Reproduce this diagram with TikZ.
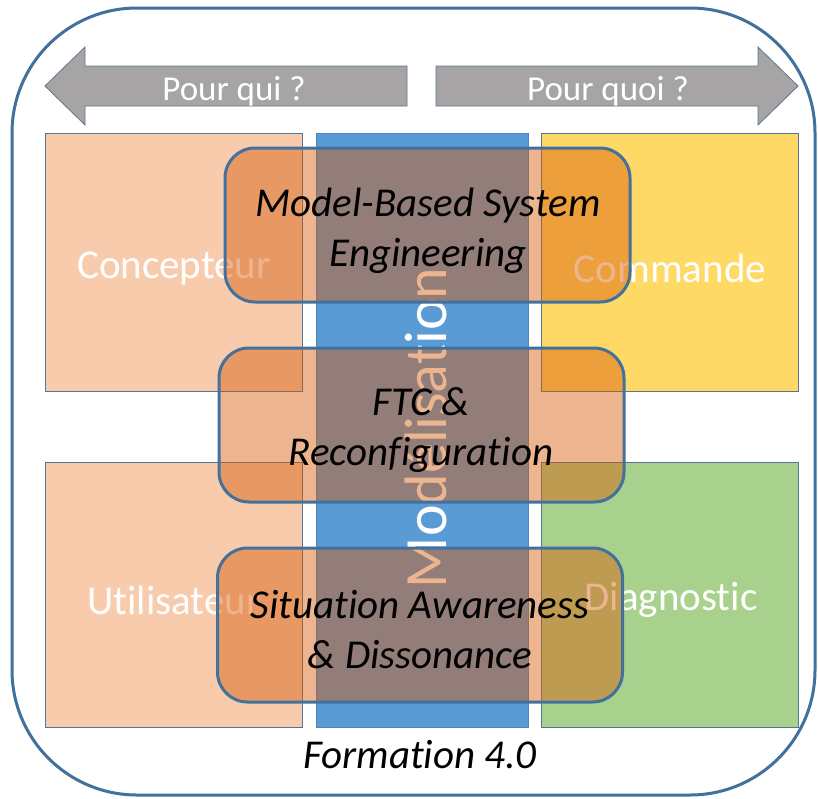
\documentclass[tikz,border=0pt]{standalone}
\usepackage{fontspec}
\setmainfont{Carlito}[Ligatures=NoCommon]
\definecolor{frameblue}{HTML}{41719C}
\definecolor{peach}{HTML}{F8CBAD}
\definecolor{gold}{HTML}{FFD966}
\definecolor{leaf}{HTML}{A9D18E}
\definecolor{barblue}{HTML}{5B9BD5}
\definecolor{arrowgray}{HTML}{A6A4A4}
\definecolor{ovl}{HTML}{D65A08}
\tikzset{
  frame/.style={draw=frameblue, line width=3pt, rounded corners=125pt},
  bigarrow/.style={fill=arrowgray, draw=frameblue!60!gray, line width=0.8pt},
  arrowtext/.style={text=white, font=\fontsize{35}{42}\selectfont},
  sq/.style={draw=frameblue!70!gray, line width=0.7pt, inner sep=0pt,
    minimum width=257pt, text=white, font=\fontsize{41}{49}\selectfont},
  ovlbox/.style={draw=frameblue, line width=3pt, rounded corners=30pt,
    fill=ovl, fill opacity=0.45, draw opacity=1, text opacity=1,
    minimum width=405pt, minimum height=154pt, inner sep=0pt},
  ovltext/.style={align=center, font=\fontsize{41}{50}\selectfont\itshape},
}
\begin{document}
\begin{tikzpicture}[x=1pt,y=-1pt]
\useasboundingbox (0,0) rectangle (818,798);
\fill[white] (0,0) rectangle (818,798);
\draw[frame] (12,8) rectangle (815,795);
% arrows
\draw[bigarrow] (45,86) -- (85,47) -- (85,66) -- (407,66) -- (407,106) -- (85,106) -- (85,125) -- cycle;
\draw[bigarrow] (798,86) -- (758,47) -- (758,66) -- (436,66) -- (436,106) -- (758,106) -- (758,125) -- cycle;
\node[arrowtext] (pourqui) at (234,91) {Pour qui ?};
\node[arrowtext] (pourquoi) at (608,91) {Pour quoi ?};
% squares
\node[sq, fill=peach, minimum height=258pt] (concepteur) at (174,262) {};
\node[sq, fill=gold, minimum height=258pt] (commande) at (669.5,262) {};
\node[sq, fill=peach, minimum height=265pt] (utilisateur) at (174,594.5) {};
\node[sq, fill=leaf, minimum height=265pt] (diagnostic) at (669.5,594.5) {};
\node[sq, draw=none, minimum width=0pt] (lconcepteur) at (174,268) {Concepteur};
\node[sq, draw=none, minimum width=0pt] (lcommande) at (670,268) {Commande};
\node[sq, draw=none, minimum width=0pt] (lutilisateur) at (174,600) {Utilisateur};
\node[sq, draw=none, minimum width=0pt] (ldiagnostic) at (671,600) {Diagnostic};
% bar
\node[fill=barblue, draw=frameblue!50!barblue, line width=0.5pt, minimum width=212pt, minimum height=594pt, inner sep=0pt] (bar) at (422,430) {};
\node[rotate=90, text=white, font=\fontsize{60}{70}\selectfont] (modelisation) at (426,428) {Modélisation};
% overlay boxes
\node[ovlbox] (mbse) at (427.5,225) {};
\node[ovlbox] (ftc) at (421.5,425) {};
\node[ovlbox] (sa) at (420,625) {};
\node[ovltext] (tmbse) at (428,231) {Model-Based System\\Engineering};
\node[ovltext] (tftc) at (421,430) {FTC \&\\Reconfiguration};
\node[ovltext] (tsa) at (420,630) {Situation Awareness\\\& Dissonance};
\node[font=\fontsize{41}{49}\selectfont\itshape] (formation) at (420,755) {Formation 4.0};
\end{tikzpicture}
\end{document}
